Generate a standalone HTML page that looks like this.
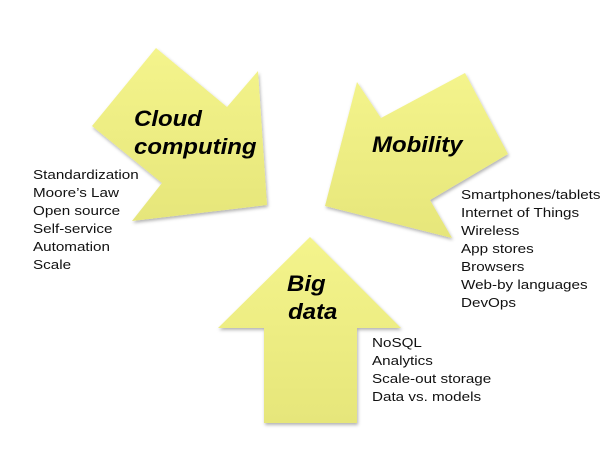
<!DOCTYPE html>
<html><head><style>
body{margin:0;background:#fff;width:610px;height:458px;overflow:hidden;position:relative;font-family:"Liberation Sans",sans-serif}
.t{position:absolute;font-size:13px;line-height:18px;color:#111;transform:scaleX(1.17);transform-origin:0 0;white-space:nowrap}
.h{position:absolute;font-size:22px;font-weight:bold;font-style:italic;line-height:28px;color:#000;transform:scaleX(1.09);transform-origin:0 0;white-space:nowrap}
</style></head><body>
<svg width="610" height="458" style="position:absolute;left:0;top:0">
<defs><filter id="s"><feDropShadow dx="1" dy="2" stdDeviation="1.5" flood-opacity="0.3"/></filter>
<linearGradient id="g" x1="0" y1="0" x2="0" y2="1"><stop offset="0" stop-color="#f4f48c"/><stop offset="1" stop-color="#e6e67a"/></linearGradient></defs>
<g fill="url(#g)" filter="url(#s)">
<polygon points="156,48 227,107 258,71 267,205 132,221 162,183 92,126"/>
<polygon points="465,73 508,154 430,200 452,238 325,206 357,82 381,118"/>
<polygon points="310,237 401,328 357,328 357,423 264,423 264,328 218,328"/>
</g></svg>
<div class="h" style="left:134px;top:105px">Cloud<br>computing</div>
<div class="h" style="left:372px;top:131px">Mobility</div>
<div class="h" style="left:287px;top:270px">Big<br><span style="margin-left:1px">data</span></div>
<div class="t" style="left:33px;top:166px">Standardization<br>Moore’s Law<br>Open source<br>Self-service<br>Automation<br>Scale</div>
<div class="t" style="left:461px;top:186px">Smartphones/tablets<br>Internet of Things<br>Wireless<br>App stores<br>Browsers<br>Web-by languages<br>DevOps</div>
<div class="t" style="left:372px;top:334px">NoSQL<br>Analytics<br>Scale-out storage<br>Data vs. models</div>
</body></html>
